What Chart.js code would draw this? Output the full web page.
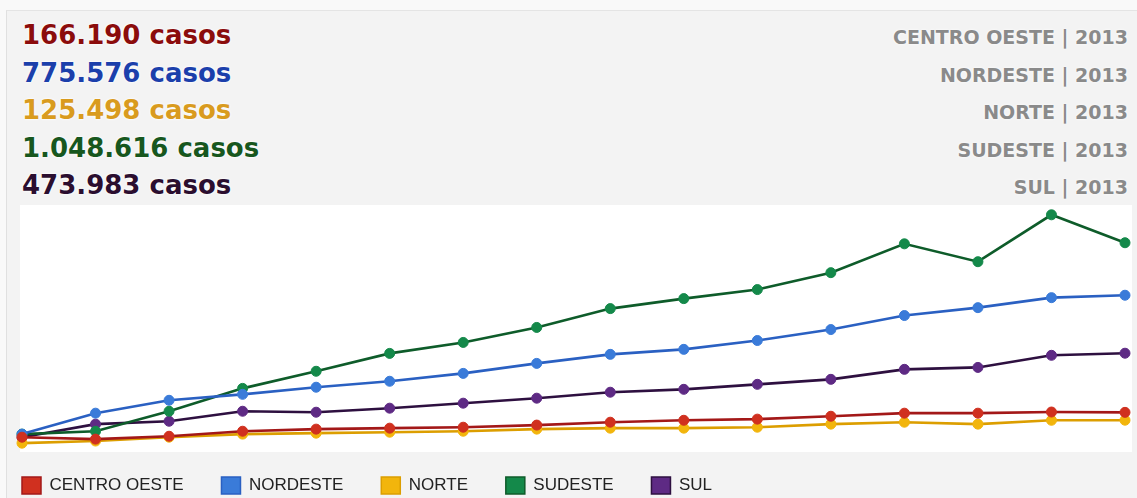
<!DOCTYPE html>
<html lang="pt-BR">
<head>
<meta charset="utf-8">
<title>Casos por região</title>
<script src="https://cdn.jsdelivr.net/npm/chart.js@4.4.1/dist/chart.umd.min.js"></script>
<style>
  html, body {
    margin: 0;
    padding: 0;
    width: 1137px;
    height: 498px;
    overflow: hidden;
    background: #f9f9f9;
  }
  .card {
    position: absolute;
    left: 6px;
    top: 10px;
    right: 0;
    bottom: 0;
    background: #f3f3f3;
    border-left: 1px solid #e0e0e0;
    border-top: 1px solid #e4e4e4;
  }
  #header {
    position: absolute;
    left: 22px;
    top: 17px;
    width: 1106px;
  }
  .row {
    display: flex;
    justify-content: space-between;
    align-items: baseline;
    height: 37.5px;
    line-height: 37.5px;
  }
  .total {
    font-family: "DejaVu Sans", Verdana, sans-serif;
    font-weight: bold;
    font-size: 26px;
    text-shadow: 0 0 3px #fff, 0 0 2px #fff;
  }
  .region {
    font-family: "DejaVu Sans", Verdana, sans-serif;
    font-weight: bold;
    font-size: 19px;
    color: #8a8a8a;
    text-shadow: 0 0 3px #fff;
  }
  #wrap {
    position: absolute;
    left: -3px;
    top: 205px;
    width: 1140px;
    height: 299px;
  }
</style>
</head>
<body>
<div class="card"></div>
<div id="header"></div>
<div id="wrap"><canvas id="chart"></canvas></div>

<script>
// data
const years = [1998, 1999, 2000, 2001, 2002, 2003, 2004, 2005, 2006, 2007, 2008, 2009, 2010, 2011, 2012, 2013];
const regions = ['CENTRO OESTE', 'NORDESTE', 'NORTE', 'SUDESTE', 'SUL'];
const totals = ['166.190', '775.576', '125.498', '1.048.616', '473.983'];

const centroOeste = [37000, 27000, 42000, 68000, 79000, 84000, 89000, 100000, 115000, 125000, 131000, 146000, 162000, 162000, 168000, 166190];
const nordeste = [53000, 162000, 229000, 260000, 297000, 328000, 369000, 421000, 468000, 494000, 540000, 597000, 670000, 711000, 763000, 775576];
const norte = [6000, 17000, 37000, 53000, 58000, 63000, 68000, 79000, 84000, 84000, 89000, 105000, 115000, 105000, 125000, 125498];
const sudeste = [53000, 68000, 172000, 291000, 380000, 473000, 530000, 608000, 706000, 758000, 805000, 893000, 1043000, 950000, 1194000, 1048616];
const sul = [37000, 105000, 120000, 172000, 167000, 188000, 214000, 240000, 271000, 286000, 312000, 338000, 390000, 400000, 463000, 473983];

const headerColors = ['#8b0c0c', '#1b3fab', '#d99b1e', '#17571e', '#2b0e2f'];
const lineColors = ['#a31818', '#2a60c2', '#dc9e00', '#0e5c2a', '#2e1040'];
const pointColors = ['#d0301f', '#3a7bd9', '#f2b50c', '#14894a', '#5e2a84'];

const series = [centroOeste, nordeste, norte, sudeste, sul];

// header rows
const header = document.getElementById('header');
header.innerHTML = regions.map((r, i) => `
  <div class="row">
    <span class="total" style="color:${headerColors[i]}">${totals[i]} casos</span>
    <span class="region">${r} | 2013</span>
  </div>`).join('');

// white plotting background, a bit wider than the points
const plotBackground = {
  id: 'plotBackground',
  beforeDatasetsDraw(chart) {
    const { ctx, chartArea, scales } = chart;
    const left = scales.x.getPixelForValue(0) - 2;
    const right = chartArea.right + 7;
    ctx.save();
    ctx.fillStyle = '#ffffff';
    ctx.fillRect(left, chartArea.top, right - left, chartArea.bottom - chartArea.top);
    ctx.restore();
  }
};

new Chart(document.getElementById('chart'), {
  type: 'line',
  data: {
    datasets: regions.map((r, i) => ({
      label: r,
      data: series[i].map((v, j) => ({ x: j, y: v, year: years[j] })),
      borderColor: lineColors[i],
      backgroundColor: pointColors[i],
      pointBackgroundColor: pointColors[i],
      pointBorderColor: pointColors[i],
      borderWidth: 2.6,
      pointRadius: 5,
      pointBorderWidth: 1,
      tension: 0,
      clip: false
    }))
  },
  options: {
    responsive: true,
    maintainAspectRatio: false,
    animation: false,
    layout: {
      autoPadding: false,
      padding: { left: 0, right: 12, top: 0, bottom: 0 }
    },
    scales: {
      x: {
        type: 'linear',
        display: false,
        min: -0.34,
        max: years.length - 1
      },
      y: {
        display: false,
        min: -40000,
        max: 1245000
      }
    },
    plugins: {
      legend: {
        position: 'bottom',
        align: 'start',
        labels: {
          boxWidth: 19,
          boxHeight: 17,
          padding: 25,
          color: '#222',
          font: { family: 'Liberation Sans, Arial, sans-serif', size: 17 },
          generateLabels(chart) {
            const items = Chart.defaults.plugins.legend.labels.generateLabels(chart);
            items.forEach(it => {
              it.text = it.text + '  \u2009';
              it.lineWidth = 1.5;
            });
            return items;
          }
        }
      },
      tooltip: { enabled: false }
    }
  },
  plugins: [plotBackground]
});
</script>
</body>
</html>
